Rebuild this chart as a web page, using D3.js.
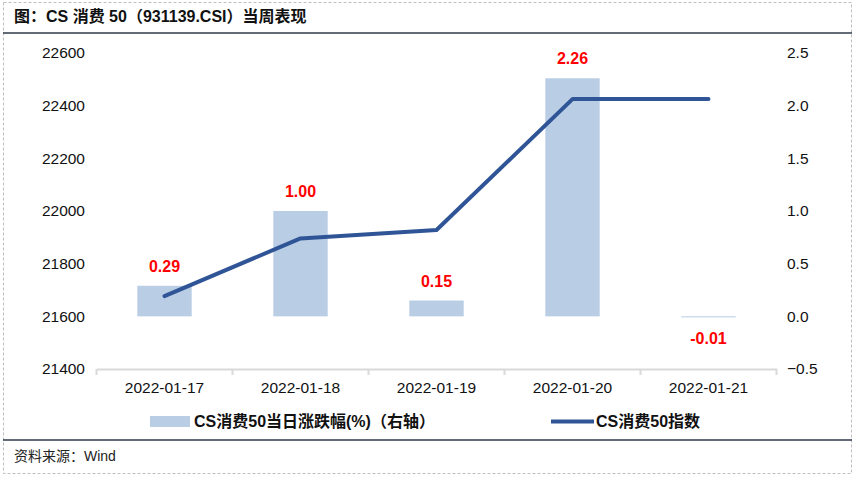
<!DOCTYPE html>
<html><head><meta charset="utf-8">
<script src="https://cdn.jsdelivr.net/npm/d3@7"></script>
<style>body{margin:0;background:#fff}svg{display:block}</style>
</head><body>
<svg id="c" width="855" height="477"></svg>
<script>
const categories = ["2022-01-17","2022-01-18","2022-01-19","2022-01-20","2022-01-21"];
const pctChange = [0.29, 1.00, 0.15, 2.26, -0.01];
const indexValues = [21677, 21896, 21928, 22425, 22425];
const pctLabels = ["0.29","1.00","0.15","2.26","-0.01"];
const leftTicks = [21400,21600,21800,22000,22200,22400,22600];
const rightTicks = [-0.5,0.0,0.5,1.0,1.5,2.0,2.5];
const titleText = "图：CS 消费 50（931139.CSI）当周表现";
const sourceText = "资料来源：Wind";
const legendBar = "CS消费50当日涨跌幅(%)（右轴）";
const legendLine = "CS消费50指数";

const svg = d3.select("#c");
const font = "'Liberation Sans', Arial, 'Noto Sans CJK SC', sans-serif";

// frame
svg.append("rect").attr("x",3.5).attr("y",2.5).attr("width",848).attr("height",471)
  .attr("fill","none").attr("stroke","#bfbfbf").attr("stroke-dasharray","3,2");
svg.append("line").attr("x1",3).attr("x2",852).attr("y1",33).attr("y2",33).attr("stroke","#2f3a48").attr("stroke-width",1.5);
svg.append("line").attr("x1",3).attr("x2",852).attr("y1",440).attr("y2",440).attr("stroke","#2f3a48").attr("stroke-width",1.5);
svg.append("text").attr("x",14).attr("y",22).attr("font-family",font).attr("font-weight","bold")
  .attr("font-size",16).attr("fill","#111").text(titleText);
svg.append("text").attr("x",14).attr("y",461).attr("font-family",font)
  .attr("font-size",14).attr("fill","#222").text(sourceText);

const x0 = 96.5, x1 = 776.5, yTop = 53, yBot = 369;
const x = d3.scaleBand().domain(categories).range([x0,x1]).paddingInner(0).paddingOuter(0);
const yL = d3.scaleLinear().domain([21400,22600]).range([yBot,yTop]);
const yR = d3.scaleLinear().domain([-0.5,2.5]).range([yBot,yTop]);

// axes labels
const gl = svg.append("g").attr("transform",`translate(${85},0)`);
gl.call(d3.axisLeft(yL).tickValues(leftTicks).tickSize(0).tickPadding(0).tickFormat(d3.format("d")));
gl.select(".domain").remove();
gl.selectAll("text").attr("font-family",font).attr("font-size",15.5).attr("fill","#111");

const gr = svg.append("g").attr("transform",`translate(${787},0)`);
gr.call(d3.axisRight(yR).tickValues(rightTicks).tickSize(0).tickPadding(0).tickFormat(d3.format(".1f")));
gr.select(".domain").remove();
gr.selectAll("text").attr("font-family",font).attr("font-size",15.5).attr("fill","#111");

// bars
const bw = x.bandwidth()*0.4;
svg.append("g").selectAll("rect").data(pctChange).join("rect")
  .attr("x",(d,i)=>x(categories[i])+x.bandwidth()/2-bw/2)
  .attr("width",bw)
  .attr("y",d=>Math.min(yR(d),yR(0)))
  .attr("height",d=>Math.max(1,Math.abs(yR(d)-yR(0))))
  .attr("fill","#b9cde5");

// x axis
const gx = svg.append("g").attr("transform",`translate(0,${yBot})`);
gx.call(d3.axisBottom(x).tickSize(0).tickPadding(13));
gx.select(".domain").attr("stroke","#d9d9d9").attr("stroke-width",2);
gx.selectAll("text").attr("font-family",font).attr("font-size",15.5).attr("fill","#111");
const bounds = categories.map(c=>x(c)).concat([x1]);
gx.selectAll("line.tk").data(bounds).join("line").attr("class","tk")
  .attr("x1",d=>d).attr("x2",d=>d).attr("y1",0).attr("y2",6).attr("stroke","#d9d9d9").attr("stroke-width",2);

// line
const line = d3.line().x((d,i)=>x(categories[i])+x.bandwidth()/2).y(d=>yL(d));
svg.append("path").datum(indexValues).attr("d",line).attr("fill","none")
  .attr("stroke","#2f5597").attr("stroke-width",4).attr("stroke-linecap","round").attr("stroke-linejoin","round");

// data labels
svg.append("g").selectAll("text").data(pctChange).join("text")
  .attr("x",(d,i)=>x(categories[i])+x.bandwidth()/2)
  .attr("y",d=> d>=0 ? yR(d)-14 : yR(0)+28)
  .attr("text-anchor","middle").attr("font-family",font).attr("font-weight","bold")
  .attr("font-size",16).attr("fill","#ff0000").text((d,i)=>pctLabels[i]);

// legend
svg.append("rect").attr("x",150).attr("y",416).attr("width",40).attr("height",11).attr("fill","#b9cde5");
svg.append("text").attr("x",194).attr("y",427).attr("font-family",font).attr("font-weight","bold")
  .attr("font-size",16).attr("fill","#111").text(legendBar);
svg.append("line").attr("x1",551).attr("x2",594).attr("y1",421.5).attr("y2",421.5).attr("stroke","#2f5597").attr("stroke-width",4);
svg.append("text").attr("x",596).attr("y",427).attr("font-family",font).attr("font-weight","bold")
  .attr("font-size",16).attr("fill","#111").text(legendLine);
</script>
</body></html>
